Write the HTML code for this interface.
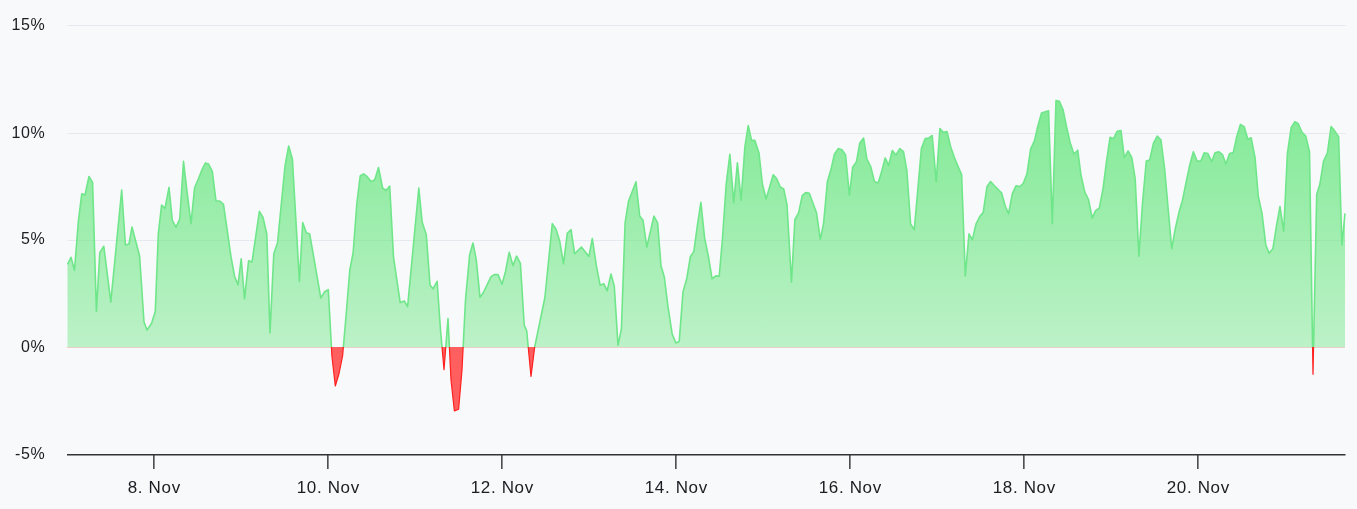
<!DOCTYPE html><html><head><meta charset="utf-8"><style>html,body{margin:0;padding:0;background:#f8f9fb;width:1357px;height:509px;overflow:hidden}svg{display:block;will-change:transform}text{font-family:"Liberation Sans",sans-serif;fill:#1a1d21}</style></head><body>
<svg width="1357" height="509" viewBox="0 0 1357 509">
<defs><linearGradient id="g" gradientUnits="userSpaceOnUse" x1="0" y1="100" x2="0" y2="347"><stop offset="0" stop-color="rgb(98,230,122)" stop-opacity="0.8"/><stop offset="1" stop-color="rgb(98,230,122)" stop-opacity="0.4"/></linearGradient>
<clipPath id="cp"><rect x="0" y="0" width="1357" height="347"/></clipPath>
<clipPath id="cn"><rect x="0" y="347" width="1357" height="162"/></clipPath></defs>
<rect width="1357" height="509" fill="#f8f9fb"/>
<path d="M67.5 25.5 H1345.5" stroke="#e6e9f0" stroke-width="1"/>
<path d="M67.5 133.5 H1345.5" stroke="#e6e9f0" stroke-width="1"/>
<path d="M67.5 240.5 H1345.5" stroke="#e6e9f0" stroke-width="1"/>
<path d="M67 347.5 H1345" stroke="#e9cfc8" stroke-width="1"/>
<g clip-path="url(#cp)"><path d="M67.5 264.4 L71 257.3 L74.5 270.2 L78.4 221 L81.8 193.7 L85 195 L89 176.5 L92.6 182.5 L96.4 311.5 L99.8 252.6 L103.8 246.3 L110.8 302.1 L121.7 190 L125.4 245 L129 244 L132 227 L139.6 256 L144 322 L147 330 L151.5 323.5 L155.3 311.6 L158.3 234 L161.6 205 L165 208.4 L169 187.4 L172.3 220.4 L176 227.4 L179.8 218.7 L183.5 161.4 L187.2 192.8 L191 223.7 L194.6 187.8 L198.3 179 L202 169.7 L205.3 163 L208.6 164 L212.3 171.3 L216 201 L219.8 201 L223.5 204.3 L231 256.7 L234.6 276.5 L238 284.8 L241.2 258.8 L244.5 298.8 L248.6 260.8 L252 262 L259.4 211.3 L263 217.5 L266.8 234 L270 333 L273.8 253.8 L277.5 243 L285 166 L288.7 146 L292.4 159 L299.4 281.5 L302.7 222.5 L306.4 232.8 L309.7 234 L320.8 298 L324.6 291.8 L328.3 289.7 L331.9 356 L335.3 386 L338.9 374 L342.6 356 L346.2 314 L349.8 270 L353.1 253 L356.9 203 L360.2 176 L363.6 173.8 L367 176.4 L371 181.6 L374.8 179.8 L378.5 167.5 L382.6 188 L386 190.6 L389.7 186 L393.5 257 L400.2 302.6 L404.3 301 L407.6 306.7 L418.8 188 L422.2 222.3 L426.3 234.7 L430 285 L433 288.8 L437.1 281.3 L440.5 330 L444 369.7 L448 318.6 L451 380 L454.4 411 L458.6 409.3 L462 370 L465.5 300 L469.6 255 L473 243 L476.3 260 L480 297.4 L483.4 292.5 L490.9 276.8 L494.2 274.6 L498 274.6 L502 284.3 L505.4 272 L509.2 252.2 L513 265.6 L516.6 256 L520.4 263.4 L524.2 325 L526.7 330.9 L531 376.5 L534.7 347 L544.9 297.5 L552.3 223.6 L556 229.2 L559.8 241.5 L563.5 263.9 L567.3 233.3 L571 229.6 L574.7 253.8 L581.4 247.1 L588.9 256.5 L592.3 238.5 L596.4 265.8 L600.1 285.2 L603.8 283.7 L607.2 290.8 L611 274 L614.3 286.3 L618 345.3 L621.4 329.2 L625.1 222.9 L628.5 201.2 L636 181.8 L639.7 216.1 L643 220.2 L646.8 247.1 L653.9 216.1 L657.6 222.9 L661 265.8 L664.3 277 L668 306.8 L672.2 334.1 L675.9 343 L679.2 341.6 L683 291.9 L686.7 278.8 L690.4 256.5 L693.8 251.6 L697.5 224.7 L700.9 202.3 L704.6 237.8 L708.4 256.5 L712.1 278.8 L715.8 275.9 L719.2 276.2 L722.5 238.2 L726.2 184 L729.9 154.2 L733.7 202.7 L737.4 162.8 L741.1 200.1 L744.9 146.7 L748.2 125.5 L751.6 140.4 L754.9 140.4 L759 153 L762.4 184 L766.1 199 L773.2 174.7 L776.6 178.5 L780.3 187 L783.7 188.9 L787 204.6 L791.5 282.2 L794.9 219.5 L798.6 212.8 L802.3 195.3 L805.7 192.6 L809.4 193.4 L812.8 202.7 L816.5 212.8 L820.3 239.3 L823.6 223.3 L827.4 181.4 L831.1 169.1 L834.4 154.2 L838.2 148.6 L841.9 149.7 L845.6 155 L849.4 195.3 L852.7 167.3 L856.5 161.7 L859.8 143 L863.6 138.1 L866.9 159 L870.7 166.5 L874.4 181.4 L878.1 182.9 L881.5 172.1 L885.2 157.9 L888.6 165.4 L892.3 150.5 L896 155 L899.8 148.6 L903.5 151.6 L906.9 171 L910.6 224 L914.3 229.6 L921.4 148.6 L925.2 138.5 L928.5 138.1 L932.2 135.5 L936.2 181.6 L939.9 128.6 L943.3 132.3 L947 131.6 L950.8 147.3 L954.5 157.7 L957.8 165.9 L961.6 174.5 L965.3 276 L969 233.9 L972.4 239.8 L976.1 223.8 L979.9 216.3 L983.2 212.6 L987 186.5 L990.7 181.6 L994.4 185.7 L1001.5 192.8 L1005.3 206.2 L1008.6 213.7 L1012.3 193.9 L1016.1 185.7 L1019.8 186.5 L1023.2 183.5 L1026.9 174.1 L1030.6 149.1 L1034.4 140.9 L1037.7 126.7 L1041.5 112.9 L1045.2 111.8 L1048.6 110.7 L1052.3 223.8 L1056 100.6 L1059.4 101.3 L1063.1 109.9 L1066.8 127.8 L1070.2 142.8 L1073.9 154 L1077.7 150.2 L1081 175.3 L1084.8 192.1 L1088.5 199.5 L1092.2 218.2 L1095.6 210.7 L1099.3 208.1 L1103.1 188.3 L1106.4 162.2 L1110.1 137.2 L1113.5 138.7 L1117.2 131.2 L1121 130.5 L1124.3 157.7 L1128.1 151 L1131.8 157.7 L1135.2 179 L1138.9 256.2 L1142.6 202 L1146.3 161 L1149.7 159.9 L1153.4 143.4 L1157.2 136 L1160.9 139.7 L1164.6 168.5 L1171.7 248.7 L1175.4 228.2 L1179.2 211.4 L1182.5 200.2 L1186.3 181.5 L1190 164 L1193.4 151.7 L1197.1 161 L1200.8 161 L1204.2 152.8 L1207.9 153.5 L1211.7 161.7 L1215 152.8 L1218.7 151.7 L1222.5 154.6 L1225.8 164 L1229.6 153.5 L1233.3 152.4 L1236.7 136.7 L1240.4 124.4 L1244.1 126.6 L1247.9 139.3 L1251.2 137.8 L1255 157.3 L1258.3 196.5 L1262 213.3 L1265.8 245 L1269.1 253.2 L1272.9 248.7 L1276.6 225.2 L1280 206.5 L1283.7 231.2 L1287.4 153.5 L1291.2 127.4 L1294.9 121.8 L1298.3 123.7 L1302 132.2 L1305.7 136 L1309.5 151.7 L1313 374.3 L1316.7 194.6 L1319.9 184.1 L1323.6 161 L1327.4 152.8 L1331.1 126.6 L1334.8 131.1 L1338.6 136.7 L1341.9 245 L1345 213.3 L1345 347 L67.5 347 Z" fill="url(#g)"/><path d="M67.5 264.4 L71 257.3 L74.5 270.2 L78.4 221 L81.8 193.7 L85 195 L89 176.5 L92.6 182.5 L96.4 311.5 L99.8 252.6 L103.8 246.3 L110.8 302.1 L121.7 190 L125.4 245 L129 244 L132 227 L139.6 256 L144 322 L147 330 L151.5 323.5 L155.3 311.6 L158.3 234 L161.6 205 L165 208.4 L169 187.4 L172.3 220.4 L176 227.4 L179.8 218.7 L183.5 161.4 L187.2 192.8 L191 223.7 L194.6 187.8 L198.3 179 L202 169.7 L205.3 163 L208.6 164 L212.3 171.3 L216 201 L219.8 201 L223.5 204.3 L231 256.7 L234.6 276.5 L238 284.8 L241.2 258.8 L244.5 298.8 L248.6 260.8 L252 262 L259.4 211.3 L263 217.5 L266.8 234 L270 333 L273.8 253.8 L277.5 243 L285 166 L288.7 146 L292.4 159 L299.4 281.5 L302.7 222.5 L306.4 232.8 L309.7 234 L320.8 298 L324.6 291.8 L328.3 289.7 L331.9 356 L335.3 386 L338.9 374 L342.6 356 L346.2 314 L349.8 270 L353.1 253 L356.9 203 L360.2 176 L363.6 173.8 L367 176.4 L371 181.6 L374.8 179.8 L378.5 167.5 L382.6 188 L386 190.6 L389.7 186 L393.5 257 L400.2 302.6 L404.3 301 L407.6 306.7 L418.8 188 L422.2 222.3 L426.3 234.7 L430 285 L433 288.8 L437.1 281.3 L440.5 330 L444 369.7 L448 318.6 L451 380 L454.4 411 L458.6 409.3 L462 370 L465.5 300 L469.6 255 L473 243 L476.3 260 L480 297.4 L483.4 292.5 L490.9 276.8 L494.2 274.6 L498 274.6 L502 284.3 L505.4 272 L509.2 252.2 L513 265.6 L516.6 256 L520.4 263.4 L524.2 325 L526.7 330.9 L531 376.5 L534.7 347 L544.9 297.5 L552.3 223.6 L556 229.2 L559.8 241.5 L563.5 263.9 L567.3 233.3 L571 229.6 L574.7 253.8 L581.4 247.1 L588.9 256.5 L592.3 238.5 L596.4 265.8 L600.1 285.2 L603.8 283.7 L607.2 290.8 L611 274 L614.3 286.3 L618 345.3 L621.4 329.2 L625.1 222.9 L628.5 201.2 L636 181.8 L639.7 216.1 L643 220.2 L646.8 247.1 L653.9 216.1 L657.6 222.9 L661 265.8 L664.3 277 L668 306.8 L672.2 334.1 L675.9 343 L679.2 341.6 L683 291.9 L686.7 278.8 L690.4 256.5 L693.8 251.6 L697.5 224.7 L700.9 202.3 L704.6 237.8 L708.4 256.5 L712.1 278.8 L715.8 275.9 L719.2 276.2 L722.5 238.2 L726.2 184 L729.9 154.2 L733.7 202.7 L737.4 162.8 L741.1 200.1 L744.9 146.7 L748.2 125.5 L751.6 140.4 L754.9 140.4 L759 153 L762.4 184 L766.1 199 L773.2 174.7 L776.6 178.5 L780.3 187 L783.7 188.9 L787 204.6 L791.5 282.2 L794.9 219.5 L798.6 212.8 L802.3 195.3 L805.7 192.6 L809.4 193.4 L812.8 202.7 L816.5 212.8 L820.3 239.3 L823.6 223.3 L827.4 181.4 L831.1 169.1 L834.4 154.2 L838.2 148.6 L841.9 149.7 L845.6 155 L849.4 195.3 L852.7 167.3 L856.5 161.7 L859.8 143 L863.6 138.1 L866.9 159 L870.7 166.5 L874.4 181.4 L878.1 182.9 L881.5 172.1 L885.2 157.9 L888.6 165.4 L892.3 150.5 L896 155 L899.8 148.6 L903.5 151.6 L906.9 171 L910.6 224 L914.3 229.6 L921.4 148.6 L925.2 138.5 L928.5 138.1 L932.2 135.5 L936.2 181.6 L939.9 128.6 L943.3 132.3 L947 131.6 L950.8 147.3 L954.5 157.7 L957.8 165.9 L961.6 174.5 L965.3 276 L969 233.9 L972.4 239.8 L976.1 223.8 L979.9 216.3 L983.2 212.6 L987 186.5 L990.7 181.6 L994.4 185.7 L1001.5 192.8 L1005.3 206.2 L1008.6 213.7 L1012.3 193.9 L1016.1 185.7 L1019.8 186.5 L1023.2 183.5 L1026.9 174.1 L1030.6 149.1 L1034.4 140.9 L1037.7 126.7 L1041.5 112.9 L1045.2 111.8 L1048.6 110.7 L1052.3 223.8 L1056 100.6 L1059.4 101.3 L1063.1 109.9 L1066.8 127.8 L1070.2 142.8 L1073.9 154 L1077.7 150.2 L1081 175.3 L1084.8 192.1 L1088.5 199.5 L1092.2 218.2 L1095.6 210.7 L1099.3 208.1 L1103.1 188.3 L1106.4 162.2 L1110.1 137.2 L1113.5 138.7 L1117.2 131.2 L1121 130.5 L1124.3 157.7 L1128.1 151 L1131.8 157.7 L1135.2 179 L1138.9 256.2 L1142.6 202 L1146.3 161 L1149.7 159.9 L1153.4 143.4 L1157.2 136 L1160.9 139.7 L1164.6 168.5 L1171.7 248.7 L1175.4 228.2 L1179.2 211.4 L1182.5 200.2 L1186.3 181.5 L1190 164 L1193.4 151.7 L1197.1 161 L1200.8 161 L1204.2 152.8 L1207.9 153.5 L1211.7 161.7 L1215 152.8 L1218.7 151.7 L1222.5 154.6 L1225.8 164 L1229.6 153.5 L1233.3 152.4 L1236.7 136.7 L1240.4 124.4 L1244.1 126.6 L1247.9 139.3 L1251.2 137.8 L1255 157.3 L1258.3 196.5 L1262 213.3 L1265.8 245 L1269.1 253.2 L1272.9 248.7 L1276.6 225.2 L1280 206.5 L1283.7 231.2 L1287.4 153.5 L1291.2 127.4 L1294.9 121.8 L1298.3 123.7 L1302 132.2 L1305.7 136 L1309.5 151.7 L1313 374.3 L1316.7 194.6 L1319.9 184.1 L1323.6 161 L1327.4 152.8 L1331.1 126.6 L1334.8 131.1 L1338.6 136.7 L1341.9 245 L1345 213.3" fill="none" stroke="#70e68a" stroke-width="1.6" stroke-linejoin="round"/></g>
<g clip-path="url(#cn)"><path d="M67.5 264.4 L71 257.3 L74.5 270.2 L78.4 221 L81.8 193.7 L85 195 L89 176.5 L92.6 182.5 L96.4 311.5 L99.8 252.6 L103.8 246.3 L110.8 302.1 L121.7 190 L125.4 245 L129 244 L132 227 L139.6 256 L144 322 L147 330 L151.5 323.5 L155.3 311.6 L158.3 234 L161.6 205 L165 208.4 L169 187.4 L172.3 220.4 L176 227.4 L179.8 218.7 L183.5 161.4 L187.2 192.8 L191 223.7 L194.6 187.8 L198.3 179 L202 169.7 L205.3 163 L208.6 164 L212.3 171.3 L216 201 L219.8 201 L223.5 204.3 L231 256.7 L234.6 276.5 L238 284.8 L241.2 258.8 L244.5 298.8 L248.6 260.8 L252 262 L259.4 211.3 L263 217.5 L266.8 234 L270 333 L273.8 253.8 L277.5 243 L285 166 L288.7 146 L292.4 159 L299.4 281.5 L302.7 222.5 L306.4 232.8 L309.7 234 L320.8 298 L324.6 291.8 L328.3 289.7 L331.9 356 L335.3 386 L338.9 374 L342.6 356 L346.2 314 L349.8 270 L353.1 253 L356.9 203 L360.2 176 L363.6 173.8 L367 176.4 L371 181.6 L374.8 179.8 L378.5 167.5 L382.6 188 L386 190.6 L389.7 186 L393.5 257 L400.2 302.6 L404.3 301 L407.6 306.7 L418.8 188 L422.2 222.3 L426.3 234.7 L430 285 L433 288.8 L437.1 281.3 L440.5 330 L444 369.7 L448 318.6 L451 380 L454.4 411 L458.6 409.3 L462 370 L465.5 300 L469.6 255 L473 243 L476.3 260 L480 297.4 L483.4 292.5 L490.9 276.8 L494.2 274.6 L498 274.6 L502 284.3 L505.4 272 L509.2 252.2 L513 265.6 L516.6 256 L520.4 263.4 L524.2 325 L526.7 330.9 L531 376.5 L534.7 347 L544.9 297.5 L552.3 223.6 L556 229.2 L559.8 241.5 L563.5 263.9 L567.3 233.3 L571 229.6 L574.7 253.8 L581.4 247.1 L588.9 256.5 L592.3 238.5 L596.4 265.8 L600.1 285.2 L603.8 283.7 L607.2 290.8 L611 274 L614.3 286.3 L618 345.3 L621.4 329.2 L625.1 222.9 L628.5 201.2 L636 181.8 L639.7 216.1 L643 220.2 L646.8 247.1 L653.9 216.1 L657.6 222.9 L661 265.8 L664.3 277 L668 306.8 L672.2 334.1 L675.9 343 L679.2 341.6 L683 291.9 L686.7 278.8 L690.4 256.5 L693.8 251.6 L697.5 224.7 L700.9 202.3 L704.6 237.8 L708.4 256.5 L712.1 278.8 L715.8 275.9 L719.2 276.2 L722.5 238.2 L726.2 184 L729.9 154.2 L733.7 202.7 L737.4 162.8 L741.1 200.1 L744.9 146.7 L748.2 125.5 L751.6 140.4 L754.9 140.4 L759 153 L762.4 184 L766.1 199 L773.2 174.7 L776.6 178.5 L780.3 187 L783.7 188.9 L787 204.6 L791.5 282.2 L794.9 219.5 L798.6 212.8 L802.3 195.3 L805.7 192.6 L809.4 193.4 L812.8 202.7 L816.5 212.8 L820.3 239.3 L823.6 223.3 L827.4 181.4 L831.1 169.1 L834.4 154.2 L838.2 148.6 L841.9 149.7 L845.6 155 L849.4 195.3 L852.7 167.3 L856.5 161.7 L859.8 143 L863.6 138.1 L866.9 159 L870.7 166.5 L874.4 181.4 L878.1 182.9 L881.5 172.1 L885.2 157.9 L888.6 165.4 L892.3 150.5 L896 155 L899.8 148.6 L903.5 151.6 L906.9 171 L910.6 224 L914.3 229.6 L921.4 148.6 L925.2 138.5 L928.5 138.1 L932.2 135.5 L936.2 181.6 L939.9 128.6 L943.3 132.3 L947 131.6 L950.8 147.3 L954.5 157.7 L957.8 165.9 L961.6 174.5 L965.3 276 L969 233.9 L972.4 239.8 L976.1 223.8 L979.9 216.3 L983.2 212.6 L987 186.5 L990.7 181.6 L994.4 185.7 L1001.5 192.8 L1005.3 206.2 L1008.6 213.7 L1012.3 193.9 L1016.1 185.7 L1019.8 186.5 L1023.2 183.5 L1026.9 174.1 L1030.6 149.1 L1034.4 140.9 L1037.7 126.7 L1041.5 112.9 L1045.2 111.8 L1048.6 110.7 L1052.3 223.8 L1056 100.6 L1059.4 101.3 L1063.1 109.9 L1066.8 127.8 L1070.2 142.8 L1073.9 154 L1077.7 150.2 L1081 175.3 L1084.8 192.1 L1088.5 199.5 L1092.2 218.2 L1095.6 210.7 L1099.3 208.1 L1103.1 188.3 L1106.4 162.2 L1110.1 137.2 L1113.5 138.7 L1117.2 131.2 L1121 130.5 L1124.3 157.7 L1128.1 151 L1131.8 157.7 L1135.2 179 L1138.9 256.2 L1142.6 202 L1146.3 161 L1149.7 159.9 L1153.4 143.4 L1157.2 136 L1160.9 139.7 L1164.6 168.5 L1171.7 248.7 L1175.4 228.2 L1179.2 211.4 L1182.5 200.2 L1186.3 181.5 L1190 164 L1193.4 151.7 L1197.1 161 L1200.8 161 L1204.2 152.8 L1207.9 153.5 L1211.7 161.7 L1215 152.8 L1218.7 151.7 L1222.5 154.6 L1225.8 164 L1229.6 153.5 L1233.3 152.4 L1236.7 136.7 L1240.4 124.4 L1244.1 126.6 L1247.9 139.3 L1251.2 137.8 L1255 157.3 L1258.3 196.5 L1262 213.3 L1265.8 245 L1269.1 253.2 L1272.9 248.7 L1276.6 225.2 L1280 206.5 L1283.7 231.2 L1287.4 153.5 L1291.2 127.4 L1294.9 121.8 L1298.3 123.7 L1302 132.2 L1305.7 136 L1309.5 151.7 L1313 374.3 L1316.7 194.6 L1319.9 184.1 L1323.6 161 L1327.4 152.8 L1331.1 126.6 L1334.8 131.1 L1338.6 136.7 L1341.9 245 L1345 213.3 L1345 347 L67.5 347 Z" fill="#ff5f5f"/><path d="M67.5 264.4 L71 257.3 L74.5 270.2 L78.4 221 L81.8 193.7 L85 195 L89 176.5 L92.6 182.5 L96.4 311.5 L99.8 252.6 L103.8 246.3 L110.8 302.1 L121.7 190 L125.4 245 L129 244 L132 227 L139.6 256 L144 322 L147 330 L151.5 323.5 L155.3 311.6 L158.3 234 L161.6 205 L165 208.4 L169 187.4 L172.3 220.4 L176 227.4 L179.8 218.7 L183.5 161.4 L187.2 192.8 L191 223.7 L194.6 187.8 L198.3 179 L202 169.7 L205.3 163 L208.6 164 L212.3 171.3 L216 201 L219.8 201 L223.5 204.3 L231 256.7 L234.6 276.5 L238 284.8 L241.2 258.8 L244.5 298.8 L248.6 260.8 L252 262 L259.4 211.3 L263 217.5 L266.8 234 L270 333 L273.8 253.8 L277.5 243 L285 166 L288.7 146 L292.4 159 L299.4 281.5 L302.7 222.5 L306.4 232.8 L309.7 234 L320.8 298 L324.6 291.8 L328.3 289.7 L331.9 356 L335.3 386 L338.9 374 L342.6 356 L346.2 314 L349.8 270 L353.1 253 L356.9 203 L360.2 176 L363.6 173.8 L367 176.4 L371 181.6 L374.8 179.8 L378.5 167.5 L382.6 188 L386 190.6 L389.7 186 L393.5 257 L400.2 302.6 L404.3 301 L407.6 306.7 L418.8 188 L422.2 222.3 L426.3 234.7 L430 285 L433 288.8 L437.1 281.3 L440.5 330 L444 369.7 L448 318.6 L451 380 L454.4 411 L458.6 409.3 L462 370 L465.5 300 L469.6 255 L473 243 L476.3 260 L480 297.4 L483.4 292.5 L490.9 276.8 L494.2 274.6 L498 274.6 L502 284.3 L505.4 272 L509.2 252.2 L513 265.6 L516.6 256 L520.4 263.4 L524.2 325 L526.7 330.9 L531 376.5 L534.7 347 L544.9 297.5 L552.3 223.6 L556 229.2 L559.8 241.5 L563.5 263.9 L567.3 233.3 L571 229.6 L574.7 253.8 L581.4 247.1 L588.9 256.5 L592.3 238.5 L596.4 265.8 L600.1 285.2 L603.8 283.7 L607.2 290.8 L611 274 L614.3 286.3 L618 345.3 L621.4 329.2 L625.1 222.9 L628.5 201.2 L636 181.8 L639.7 216.1 L643 220.2 L646.8 247.1 L653.9 216.1 L657.6 222.9 L661 265.8 L664.3 277 L668 306.8 L672.2 334.1 L675.9 343 L679.2 341.6 L683 291.9 L686.7 278.8 L690.4 256.5 L693.8 251.6 L697.5 224.7 L700.9 202.3 L704.6 237.8 L708.4 256.5 L712.1 278.8 L715.8 275.9 L719.2 276.2 L722.5 238.2 L726.2 184 L729.9 154.2 L733.7 202.7 L737.4 162.8 L741.1 200.1 L744.9 146.7 L748.2 125.5 L751.6 140.4 L754.9 140.4 L759 153 L762.4 184 L766.1 199 L773.2 174.7 L776.6 178.5 L780.3 187 L783.7 188.9 L787 204.6 L791.5 282.2 L794.9 219.5 L798.6 212.8 L802.3 195.3 L805.7 192.6 L809.4 193.4 L812.8 202.7 L816.5 212.8 L820.3 239.3 L823.6 223.3 L827.4 181.4 L831.1 169.1 L834.4 154.2 L838.2 148.6 L841.9 149.7 L845.6 155 L849.4 195.3 L852.7 167.3 L856.5 161.7 L859.8 143 L863.6 138.1 L866.9 159 L870.7 166.5 L874.4 181.4 L878.1 182.9 L881.5 172.1 L885.2 157.9 L888.6 165.4 L892.3 150.5 L896 155 L899.8 148.6 L903.5 151.6 L906.9 171 L910.6 224 L914.3 229.6 L921.4 148.6 L925.2 138.5 L928.5 138.1 L932.2 135.5 L936.2 181.6 L939.9 128.6 L943.3 132.3 L947 131.6 L950.8 147.3 L954.5 157.7 L957.8 165.9 L961.6 174.5 L965.3 276 L969 233.9 L972.4 239.8 L976.1 223.8 L979.9 216.3 L983.2 212.6 L987 186.5 L990.7 181.6 L994.4 185.7 L1001.5 192.8 L1005.3 206.2 L1008.6 213.7 L1012.3 193.9 L1016.1 185.7 L1019.8 186.5 L1023.2 183.5 L1026.9 174.1 L1030.6 149.1 L1034.4 140.9 L1037.7 126.7 L1041.5 112.9 L1045.2 111.8 L1048.6 110.7 L1052.3 223.8 L1056 100.6 L1059.4 101.3 L1063.1 109.9 L1066.8 127.8 L1070.2 142.8 L1073.9 154 L1077.7 150.2 L1081 175.3 L1084.8 192.1 L1088.5 199.5 L1092.2 218.2 L1095.6 210.7 L1099.3 208.1 L1103.1 188.3 L1106.4 162.2 L1110.1 137.2 L1113.5 138.7 L1117.2 131.2 L1121 130.5 L1124.3 157.7 L1128.1 151 L1131.8 157.7 L1135.2 179 L1138.9 256.2 L1142.6 202 L1146.3 161 L1149.7 159.9 L1153.4 143.4 L1157.2 136 L1160.9 139.7 L1164.6 168.5 L1171.7 248.7 L1175.4 228.2 L1179.2 211.4 L1182.5 200.2 L1186.3 181.5 L1190 164 L1193.4 151.7 L1197.1 161 L1200.8 161 L1204.2 152.8 L1207.9 153.5 L1211.7 161.7 L1215 152.8 L1218.7 151.7 L1222.5 154.6 L1225.8 164 L1229.6 153.5 L1233.3 152.4 L1236.7 136.7 L1240.4 124.4 L1244.1 126.6 L1247.9 139.3 L1251.2 137.8 L1255 157.3 L1258.3 196.5 L1262 213.3 L1265.8 245 L1269.1 253.2 L1272.9 248.7 L1276.6 225.2 L1280 206.5 L1283.7 231.2 L1287.4 153.5 L1291.2 127.4 L1294.9 121.8 L1298.3 123.7 L1302 132.2 L1305.7 136 L1309.5 151.7 L1313 374.3 L1316.7 194.6 L1319.9 184.1 L1323.6 161 L1327.4 152.8 L1331.1 126.6 L1334.8 131.1 L1338.6 136.7 L1341.9 245 L1345 213.3" fill="none" stroke="#ff2020" stroke-width="1.2" stroke-linejoin="round"/></g>
<path d="M67 454.8 H1345.5" stroke="#333" stroke-width="1.4"/>
<path d="M153.85 454.5 V469" stroke="#333" stroke-width="1.4"/>
<path d="M327.85 454.5 V469" stroke="#333" stroke-width="1.4"/>
<path d="M501.85 454.5 V469" stroke="#333" stroke-width="1.4"/>
<path d="M675.85 454.5 V469" stroke="#333" stroke-width="1.4"/>
<path d="M849.85 454.5 V469" stroke="#333" stroke-width="1.4"/>
<path d="M1023.85 454.5 V469" stroke="#333" stroke-width="1.4"/>
<path d="M1197.85 454.5 V469" stroke="#333" stroke-width="1.4"/>
<text x="45.3" y="30" font-size="16" letter-spacing="0.6" text-anchor="end">15%</text>
<text x="45.3" y="138" font-size="16" letter-spacing="0.6" text-anchor="end">10%</text>
<text x="45.3" y="244" font-size="16" letter-spacing="0.6" text-anchor="end">5%</text>
<text x="45.3" y="352" font-size="16" letter-spacing="0.6" text-anchor="end">0%</text>
<text x="45.3" y="459" font-size="16" letter-spacing="0.6" text-anchor="end">-5%</text>
<text x="154.3" y="493" font-size="17" letter-spacing="0.65" text-anchor="middle">8. Nov</text>
<text x="328.3" y="493" font-size="17" letter-spacing="0.65" text-anchor="middle">10. Nov</text>
<text x="502.3" y="493" font-size="17" letter-spacing="0.65" text-anchor="middle">12. Nov</text>
<text x="676.3" y="493" font-size="17" letter-spacing="0.65" text-anchor="middle">14. Nov</text>
<text x="850.3" y="493" font-size="17" letter-spacing="0.65" text-anchor="middle">16. Nov</text>
<text x="1024.3" y="493" font-size="17" letter-spacing="0.65" text-anchor="middle">18. Nov</text>
<text x="1198.3" y="493" font-size="17" letter-spacing="0.65" text-anchor="middle">20. Nov</text>
</svg></body></html>
